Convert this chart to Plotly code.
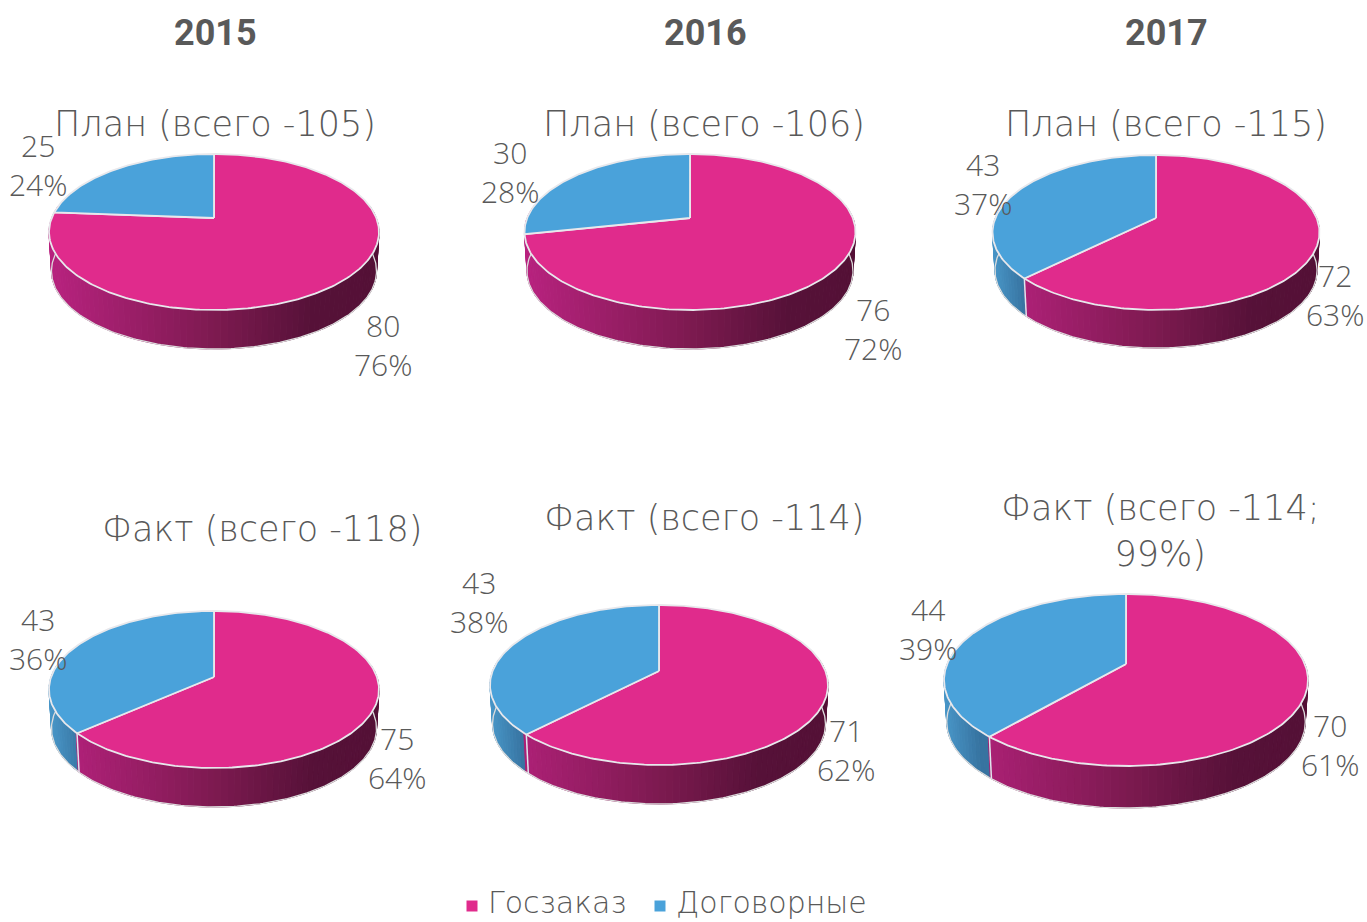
import math
import plotly.graph_objects as go

# ---- data ----
years = ["2015", "2016", "2017"]
panel_titles = ["План (всего -105)", "План (всего -106)", "План (всего -115)",
                "Факт (всего -118)", "Факт (всего -114)", "Факт (всего -114;<br>99%)"]
goszakaz = [80, 76, 72, 75, 71, 70]
dogovornye = [25, 30, 43, 43, 43, 44]
goszakaz_pct = [76, 72, 63, 64, 62, 61]
dogovornye_pct = [24, 28, 37, 36, 38, 39]
series_names = ["Госзаказ", "Договорные"]

# ---- layout (pixels of the canvas) ----
# left, right, top, bottom of upper face; apex x, apex y; wall depth
discs = [
    (49, 379, 154, 310, 214, 218, 39),
    (524, 855, 154, 310, 690, 218, 39),
    (991, 1318, 155, 310, 1156, 218, 38),
    (49, 379, 611, 768, 214, 677, 39),
    (489, 827, 605, 765, 659, 671, 39),
    (943, 1307, 594, 766, 1126, 664, 42),
]
year_pos = [(215, 33), (705, 33), (1166, 33)]
title_pos = [(215, 124), (704, 124), (1166, 124), (262, 529), (704, 518), (1160, 531)]
blue_label_pos = [(38, 165), (510, 172), (983, 184), (38, 639), (479, 602), (928, 629)]
pink_label_pos = [(383, 345), (873, 329), (1335, 295), (397, 758), (846, 750), (1330, 745)]
legend_marker_x = [472, 660]
legend_text_x = [488, 676]
LEGEND_MARKER_Y = 906
LEGEND_TEXT_Y = 902

PINK, BLUE = "#e02b8c", "#4aa2da"
TEXT = "#595959"
FONT = "Open Sans"
WIDE_FONT = "DejaVu Sans"
PINK_STOPS = [(0, (184, 34, 127)), (0.5, (125, 26, 80)), (0.8, (86, 17, 56)), (1, (84, 16, 54))]
BLUE_STOPS = [(0, (72, 150, 200)), (0.5, (55, 115, 160)), (1, (55, 115, 160))]


def ramp(stops, f):
    f = min(max(f, 0), 1)
    for (a, ca), (b, cb) in zip(stops, stops[1:]):
        if f <= b:
            s = (f - a) / (b - a)
            return "rgb(%d,%d,%d)" % tuple(round(x + (y - x) * s) for x, y in zip(ca, cb))
    return "rgb(%d,%d,%d)" % stops[-1][1]


def projector(d):
    """Perspective map of the unit circle onto the tilted pie face."""
    l, r, t, b, ax, ay, depth = d
    up, down = ay - t, b - ay
    p = (down - up) / (down + up)
    k = up * (1 + p)
    rx = (r - l) / 2 * math.sqrt(1 - p * p)

    def pt(deg, drop=0.0):
        a = math.radians(deg)
        u, v = math.sin(a), -math.cos(a)
        w = 1 / (1 - p * v)
        sc = 1 - 0.015 * drop / depth
        return ax + rx * u * w * sc, ay + k * v * w + drop
    return pt


def degs(a, b, step=1.0):
    n = max(2, int(abs(b - a) / step) + 1)
    return [a + (b - a) * i / (n - 1) for i in range(n)]


fig = go.Figure()


def poly(xs, ys, fill, line=None, width=1, name=None, hover=None):
    fig.add_trace(go.Scatter(
        x=xs, y=ys, mode="lines", fill="toself", fillcolor=fill,
        line=dict(color=line or fill, width=width), showlegend=False,
        hoverinfo="text" if hover else "skip", text=hover, name=name))


for i, d in enumerate(discs):
    pt = projector(d)
    depth = d[6]
    total = goszakaz[i] + dogovornye[i]
    pink_end = 360 * goszakaz[i] / total
    blue_wall = pink_end < 250   # a thinner blue slice stops above the visible wall

    # narrow overlapping bands: the shade changes across the width of the wall
    for a in degs(80, 280, 2.0)[:-1]:
        a2 = a + 2.0
        on_pink = a < pink_end or not blue_wall
        x0, y0 = pt(a)
        x1, y1 = pt(a2)
        x2, y2 = pt(a2, depth)
        x3, y3 = pt(a, depth)
        f = ((x0 + x1) / 2 - d[0]) / (d[1] - d[0])
        c = ramp(PINK_STOPS, f) if on_pink else ramp(BLUE_STOPS, f * 5)
        poly([x0, x1, x2, x3, x0], [y0, y1, y2, y3, y0], c, width=1.0)

    # wall outline and seam between the two walls
    arc = degs(80, 280)
    low = [pt(80)] + [pt(a, depth) for a in arc] + [pt(280)]
    fig.add_trace(go.Scatter(x=[q[0] for q in low], y=[q[1] for q in low], mode="lines",
                             line=dict(color="#dcdcdc", width=1.3), showlegend=False, hoverinfo="skip"))
    if blue_wall:
        s0, s1 = pt(pink_end), pt(pink_end, depth)
        fig.add_trace(go.Scatter(x=[s0[0], s1[0]], y=[s0[1], s1[1]], mode="lines",
                                 line=dict(color="#dfe6ee", width=1.5), showlegend=False, hoverinfo="skip"))

    # upper face
    ax, ay = d[4], d[5]
    pts = [pt(a) for a in degs(0, pink_end)]
    poly([ax] + [q[0] for q in pts] + [ax], [ay] + [q[1] for q in pts] + [ay], PINK,
         line="#e8e8ec", width=1.8, name=series_names[0],
         hover="%s: %d (%d%%)" % (series_names[0], goszakaz[i], goszakaz_pct[i]))
    pts = [pt(a) for a in degs(pink_end, 360)]
    poly([ax] + [q[0] for q in pts] + [ax], [ay] + [q[1] for q in pts] + [ay], BLUE,
         line="#e8e8ec", width=1.8, name=series_names[1],
         hover="%s: %d (%d%%)" % (series_names[1], dogovornye[i], dogovornye_pct[i]))


def note(x, y, text, size=30, family=FONT, bold=False, weight=300, xanchor="center"):
    fig.add_annotation(x=x, y=y, xref="x", yref="y", text="<b>%s</b>" % text if bold else text,
                       showarrow=False, align="center", xanchor=xanchor, yanchor="middle",
                       borderpad=0, borderwidth=0,
                       font=dict(size=size, family=family, color=TEXT, weight=None if bold else weight))


# legend
for name, col, mx, tx in zip(series_names, (PINK, BLUE), legend_marker_x, legend_text_x):
    fig.add_trace(go.Scatter(x=[mx], y=[LEGEND_MARKER_Y], mode="markers", name=name, showlegend=False,
                             hoverinfo="name", marker=dict(symbol="square", size=11, color=col)))
    note(tx, LEGEND_TEXT_Y, name, size=30, family=WIDE_FONT, xanchor="left")

for y, (px, py) in zip(years, year_pos):
    note(px, py, y, size=36, family="Roboto", bold=True)
for t, (px, py) in zip(panel_titles, title_pos):
    note(px, py, t, size=35, family=WIDE_FONT)
for i in range(6):
    note(*blue_label_pos[i], "%d<br>%d%%" % (dogovornye[i], dogovornye_pct[i]))
    note(*pink_label_pos[i], "%d<br>%d%%" % (goszakaz[i], goszakaz_pct[i]))

fig.update_layout(
    width=1367, height=922, margin=dict(l=0, r=0, t=0, b=0), showlegend=False,
    paper_bgcolor="white", plot_bgcolor="white",
    xaxis=dict(range=[0, 1367], visible=False, fixedrange=True),
    yaxis=dict(range=[922, 0], visible=False, fixedrange=True),
    font=dict(family=FONT, color=TEXT),
)
fig.write_html("out.html", config={"displayModeBar": False},
               post_script="document.body.style.margin='0';")
